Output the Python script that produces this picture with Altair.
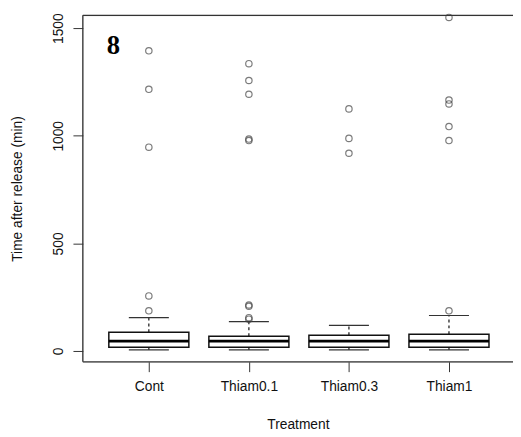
import altair as alt
import pandas as pd

categories = ["Cont", "Thiam0.1", "Thiam0.3", "Thiam1"]
whisker_low = [5, 5, 5, 5]
q1 = [18, 18, 18, 18]
median = [46, 46, 46, 46]
q3 = [87, 69, 73, 78]
whisker_high = [155, 137, 119, 165]
outliers = {
    "Cont": [187, 256, 947, 1216, 1395],
    "Thiam0.1": [148, 155, 208, 214, 978, 985, 1193, 1257, 1335],
    "Thiam0.3": [919, 988, 1125],
    "Thiam1": [187, 978, 1043, 1148, 1166, 1550],
}
y_ticks = [0, 500, 1000, 1500]
panel_label = "8"
x_title = "Treatment"
y_title = "Time after release (min)"

W, H = 437, 352
FONT = "Liberation Sans"

box_df = pd.DataFrame({
    "cat": categories,
    "pos": list(range(1, len(categories) + 1)),
    "wlo": whisker_low, "q1": q1, "med": median, "q3": q3, "whi": whisker_high,
})
out_rows = []
for i, c in enumerate(categories):
    for v in outliers[c]:
        out_rows.append({"cat": c, "pos": i + 1, "val": v})
out_df = pd.DataFrame(out_rows)

label_expr = "{" + ",".join(f"'{i+1}':'{c}'" for i, c in enumerate(categories)) + "}[datum.value]"

xscale = alt.Scale(domain=[0.34, 4.64], nice=False, zero=False)
yscale = alt.Scale(domain=[-50, 1560], nice=False, zero=False)

xaxis = alt.Axis(values=[1, 2, 3, 4], labelExpr=label_expr, title=x_title,
                 domain=False, grid=False, tickSize=10, tickColor="#333", tickWidth=1,
                 labelFont=FONT, labelFontSize=14, labelColor="#111", labelPadding=8,
                 titleFont=FONT, titleFontSize=14, titleFontWeight="normal", titleColor="#111",
                 titleBaseline="alphabetic", titleY=68)
yaxis = alt.Axis(values=y_ticks, format="d", title=y_title, domain=False, grid=False,
                 tickSize=10, tickColor="#333", tickWidth=1,
                 labelFont=FONT, labelFontSize=14, labelColor="#111", labelAngle=-90,
                 labelAlign="center", labelBaseline="bottom", labelPadding=8,
                 titleFont=FONT, titleFontSize=14, titleFontWeight="normal", titleColor="#111",
                 titleBaseline="middle", titleX=-66, titleY=H / 2, titleAngle=270)

def X(field):
    return alt.X(field, type="quantitative", scale=xscale, axis=xaxis)

def Y(field):
    return alt.Y(field, type="quantitative", scale=yscale, axis=yaxis)

base = alt.Chart(box_df).transform_calculate(
    xlo="datum.pos - 0.4", xhi="datum.pos + 0.4",
    clo="datum.pos - 0.2", chi="datum.pos + 0.2",
)

whisk_up = base.mark_rule(color="#111", strokeWidth=1.2, strokeDash=[3, 3]).encode(
    x=X("pos"), y=Y("q3"), y2="whi")
whisk_dn = base.mark_rule(color="#111", strokeWidth=1.2, strokeDash=[3, 3]).encode(
    x=X("pos"), y=Y("wlo"), y2="q1")
cap_up = base.mark_rule(color="#333", strokeWidth=1.2).encode(
    x=X("clo"), x2="chi", y=Y("whi"))
cap_dn = base.mark_rule(color="#333", strokeWidth=1.2).encode(
    x=X("clo"), x2="chi", y=Y("wlo"))
boxes = base.mark_rect(fill="white", stroke="#111", strokeWidth=1.5).encode(
    x=X("xlo"), x2="xhi", y=Y("q1"), y2="q3")
med = base.mark_rule(color="#000", strokeWidth=3).encode(
    x=X("xlo"), x2="xhi", y=Y("med"))

pts = alt.Chart(out_df).mark_point(shape="circle", filled=False, size=42,
                                    stroke="#444", strokeWidth=1.2, clip=False).encode(
    x=X("pos"), y=Y("val"))

frame_df = pd.DataFrame({"k": [0]})
frame_left = alt.Chart(frame_df).mark_rule(color="#333", strokeWidth=1.3).encode(
    x=alt.value(0), y=alt.value(0), y2=alt.value(H))
frame_top = alt.Chart(frame_df).mark_rule(color="#333", strokeWidth=1.3).encode(
    x=alt.value(0), x2=alt.value(W + 5), y=alt.value(0))
frame_bot = alt.Chart(frame_df).mark_rule(color="#333", strokeWidth=1.3).encode(
    x=alt.value(0), x2=alt.value(W + 5), y=alt.value(H))

lab = alt.Chart(pd.DataFrame({"t": [panel_label]})).mark_text(
    font="Liberation Serif", fontSize=27, fontWeight="bold", color="#000",
    align="center", baseline="alphabetic").encode(
    x=alt.value(31), y=alt.value(39), text="t:N")

chart = alt.layer(
    whisk_up, whisk_dn, cap_up, cap_dn, boxes, med, pts,
    frame_left, frame_top, frame_bot, lab
).properties(
    width=W, height=H,
    padding={"left": 76, "top": 4, "right": 0, "bottom": 73},
    autosize=alt.AutoSizeParams(type="none"),
).configure_view(stroke=None).configure(background="white")

chart.save("out.html", embed_options={"renderer": "svg", "actions": False})
